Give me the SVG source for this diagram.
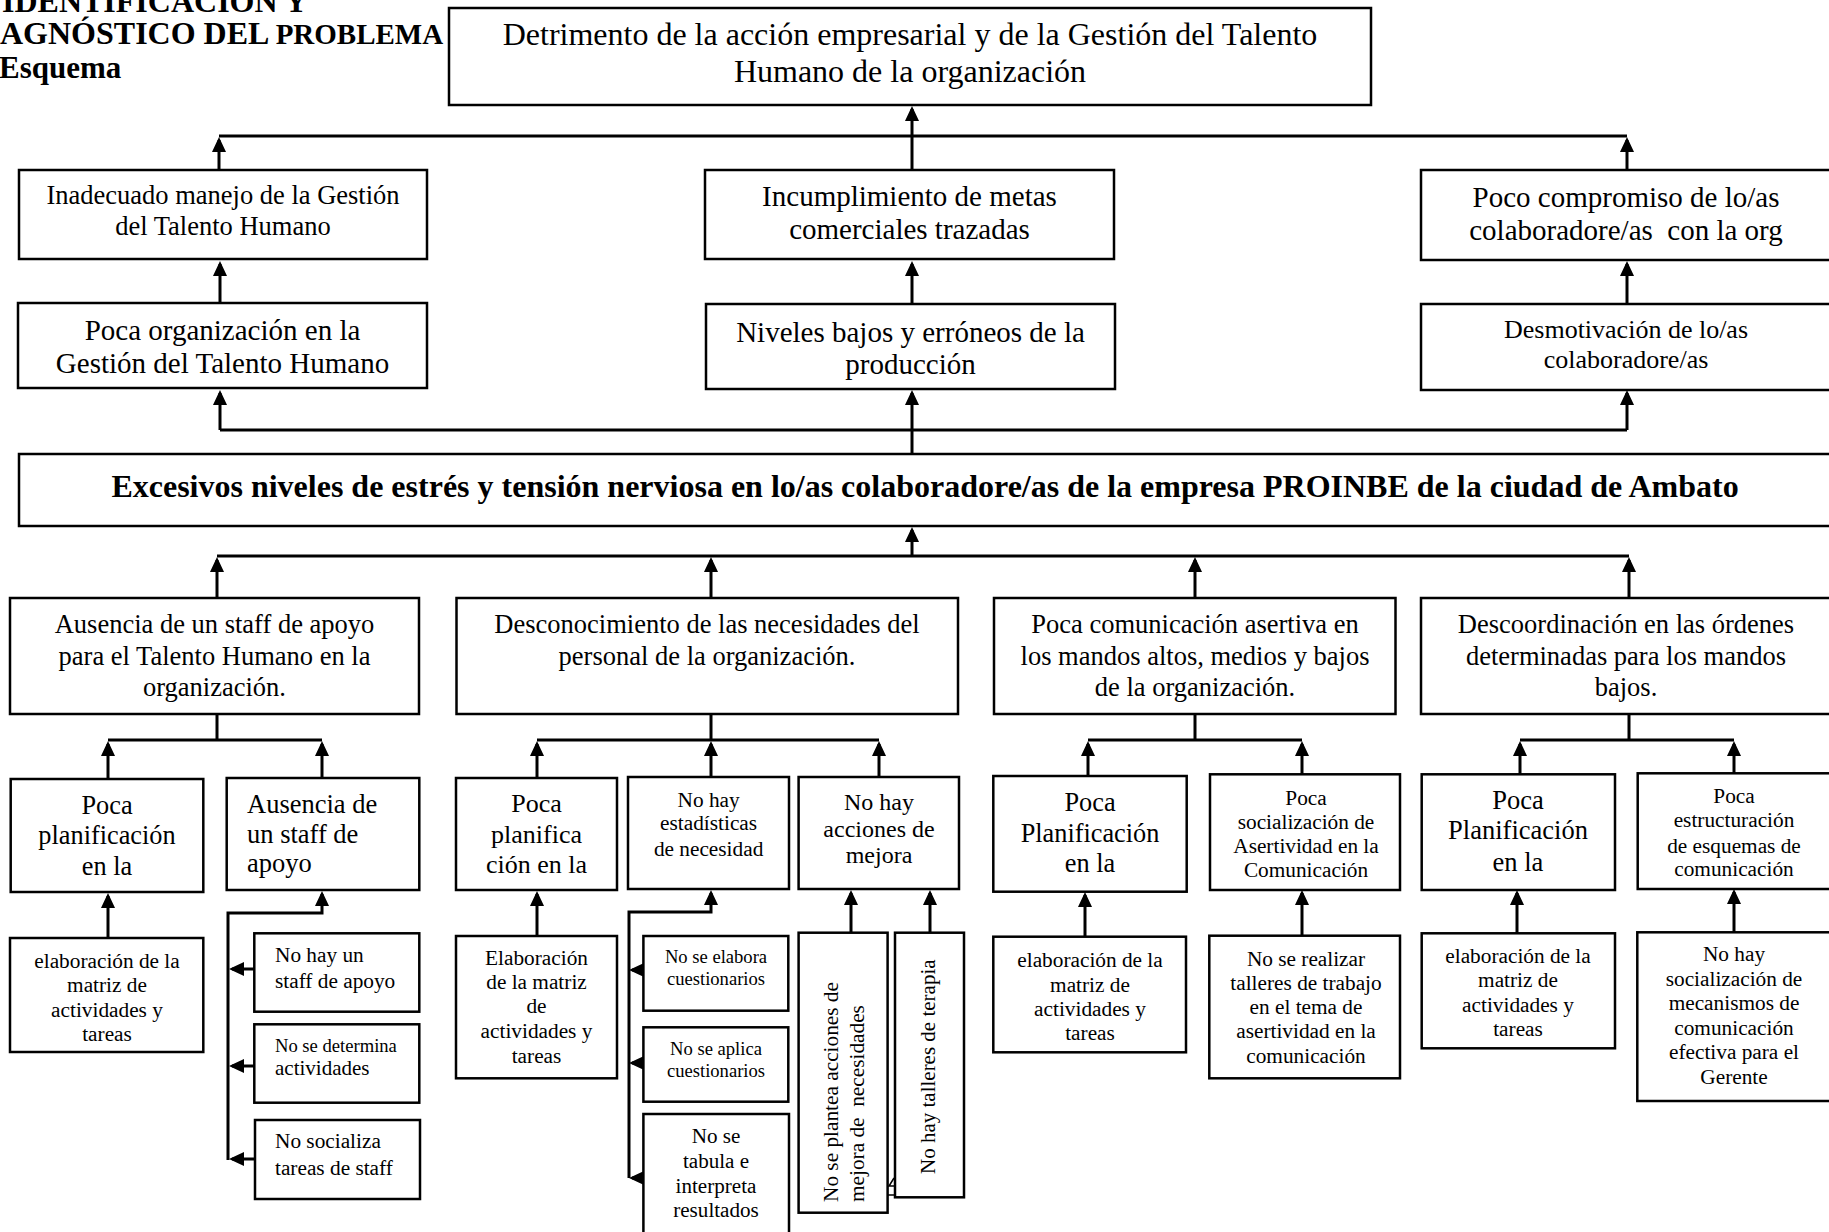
<svg xmlns="http://www.w3.org/2000/svg" width="1829" height="1232" viewBox="0 0 1829 1232">
<style>
.box{fill:#fff;stroke:#000;stroke-width:2.5}
.c{fill:none;stroke:#000;stroke-width:3}
.a{fill:none;stroke:#000;stroke-width:3;marker-end:url(#ah)}
text{font-family:"Liberation Serif","Times New Roman",serif;fill:#000}
.b{font-weight:bold}
.m{text-anchor:middle}
.s32{font-size:32px}
.s29{font-size:29px}
.s26{font-size:26.5px}
.s24{font-size:24px}
.s21{font-size:21.3px}
.s18{font-size:18.6px}
</style>
<defs>
<marker id="ah" viewBox="0 0 15 14" markerWidth="15" markerHeight="14" refX="12" refY="7" orient="auto" markerUnits="userSpaceOnUse"><path d="M0,0 L15,7 L0,14 z" fill="#000"/></marker>
</defs>
<rect width="1829" height="1232" fill="#fff"/>

<g id="title">
<text class="b" font-size="32" x="2" y="12">IDENTIFICACIÓN Y</text>
<text class="b" x="0" y="44"><tspan font-size="32">AGNÓSTICO DEL </tspan><tspan font-size="29">PROBLEMA</tspan></text>
<text class="b" font-size="31" x="-1" y="78">Esquema</text>
</g>

<g id="connectors">
<path class="c" d="M219,136 H1627"/>
<path class="a" d="M219,170 V140"/>
<path class="a" d="M1627,170 V140"/>
<path class="a" d="M912,170 V109"/>
<path class="a" d="M220,303 V264"/>
<path class="a" d="M912,304 V264"/>
<path class="a" d="M1627,304 V264"/>
<path class="c" d="M220,430 H1627"/>
<path class="a" d="M220,430 V393"/>
<path class="a" d="M1627,430 V393"/>
<path class="a" d="M912,454 V393"/>
<path class="a" d="M912,556 V530"/>
<path class="c" d="M217,556 H1629"/>
<path class="a" d="M217,598 V560"/>
<path class="a" d="M711,598 V560"/>
<path class="a" d="M1195,598 V560"/>
<path class="a" d="M1629,598 V560"/>
<path class="c" d="M217,714 V740 M108,740 H322"/>
<path class="c" d="M711,714 V740 M537,740 H879"/>
<path class="c" d="M1195,714 V740 M1088,740 H1302"/>
<path class="c" d="M1629,714 V740 M1520,740 H1734"/>
<path class="a" d="M108,779 V744"/>
<path class="a" d="M322,778 V744"/>
<path class="a" d="M537,778 V744"/>
<path class="a" d="M711,777 V744"/>
<path class="a" d="M879,777 V744"/>
<path class="a" d="M1088,776 V744"/>
<path class="a" d="M1302,774 V744"/>
<path class="a" d="M1520,774 V744"/>
<path class="a" d="M1734,773 V744"/>
<path class="a" d="M108,938 V896"/>
<path class="a" d="M228,1160 V913 H322 V894"/>
<path class="a" d="M254,969 H232"/>
<path class="a" d="M254,1066 H232"/>
<path class="a" d="M255,1159 H232"/>
<path class="a" d="M537,936 V894"/>
<path class="a" d="M629,1178 V912 H711 V893"/>
<path class="a" d="M643,970 H632"/>
<path class="a" d="M643,1063 H632"/>
<path class="a" d="M644,1178 H632"/>
<path class="a" d="M851,933 V893"/>
<path class="a" d="M930,933 V893"/>
<path class="a" d="M1085,937 V895"/>
<path class="a" d="M1302,936 V893"/>
<path class="a" d="M1517,934 V893"/>
<path class="a" d="M1734,932 V892"/>
<path fill="none" stroke="#000" stroke-width="1.5" d="M894,1178 L889,1186 H894 M888,1195 H895"/>
</g>

<g id="n-efecto">
<rect class="box" x="449" y="8" width="922" height="97"/>
<text class="s32 m"><tspan x="910" y="45">Detrimento de la acción empresarial y de la Gestión del Talento</tspan><tspan x="910" y="82">Humano de la organización</tspan></text>
</g>

<g id="n-inadecuado">
<rect class="box" x="19" y="170" width="408" height="89"/>
<text class="s26 m"><tspan x="223" y="204">Inadecuado manejo de la Gestión</tspan><tspan x="223" y="235">del Talento Humano</tspan></text>
</g>
<g id="n-incumplimiento">
<rect class="box" x="705" y="170" width="409" height="89"/>
<text class="s29 m"><tspan x="909.5" y="206">Incumplimiento de metas</tspan><tspan x="909.5" y="239">comerciales trazadas</tspan></text>
</g>
<g id="n-compromiso">
<rect class="box" x="1421" y="170" width="415" height="90"/>
<text class="s29 m"><tspan x="1626" y="207">Poco compromiso de lo/as</tspan><tspan x="1626" y="240">colaboradore/as&#160; con la org</tspan></text>
</g>

<g id="n-organizacion">
<rect class="box" x="18" y="303" width="409" height="85"/>
<text class="s29 m"><tspan x="222.5" y="340">Poca organización en la</tspan><tspan x="222.5" y="373">Gestión del Talento Humano</tspan></text>
</g>
<g id="n-niveles">
<rect class="box" x="706" y="304" width="409" height="85"/>
<text class="s29 m"><tspan x="910.5" y="342">Niveles bajos y erróneos de la</tspan><tspan x="910.5" y="374">producción</tspan></text>
</g>
<g id="n-desmotivacion">
<rect class="box" x="1421" y="304" width="415" height="86"/>
<text font-size="26" class="m"><tspan x="1626" y="338">Desmotivación de lo/as</tspan><tspan x="1626" y="368">colaboradore/as</tspan></text>
</g>

<g id="n-problema">
<rect class="box" x="19" y="454" width="1816" height="72"/>
<text class="b s32 m" x="925" y="497">Excesivos niveles de estrés y tensión nerviosa en lo/as colaboradore/as de la empresa PROINBE de la ciudad de Ambato</text>
</g>

<g id="n-causaA">
<rect class="box" x="10" y="598" width="409" height="116"/>
<text class="s26 m"><tspan x="214.5" y="633">Ausencia de un staff de apoyo</tspan><tspan x="214.5" y="665">para el Talento Humano en la</tspan><tspan x="214.5" y="696">organización.</tspan></text>
</g>
<g id="n-causaB">
<rect class="box" x="456.5" y="598" width="501.5" height="116"/>
<text class="s26 m"><tspan x="707" y="633">Desconocimiento de las necesidades del</tspan><tspan x="707" y="665">personal de la organización.</tspan></text>
</g>
<g id="n-causaC">
<rect class="box" x="994" y="598" width="401.5" height="116"/>
<text class="s26 m"><tspan x="1195" y="633">Poca comunicación asertiva en</tspan><tspan x="1195" y="665">los mandos altos, medios y bajos</tspan><tspan x="1195" y="696">de la organización.</tspan></text>
</g>
<g id="n-causaD">
<rect class="box" x="1421" y="598" width="415" height="116"/>
<text class="s26 m"><tspan x="1626" y="633">Descoordinación en las órdenes</tspan><tspan x="1626" y="665">determinadas para los mandos</tspan><tspan x="1626" y="696">bajos.</tspan></text>
</g>

<g id="n-A1">
<rect class="box" x="10.7" y="779" width="192.6" height="113"/>
<text class="m" font-size="26.3"><tspan x="107" y="814">Poca</tspan><tspan x="107" y="844">planificación</tspan><tspan x="107" y="875">en la</tspan></text>
</g>
<g id="n-A2">
<rect class="box" x="226.7" y="778" width="192.6" height="112"/>
<text class="s26"><tspan x="247" y="813">Ausencia de</tspan><tspan x="247" y="843">un staff de</tspan><tspan x="247" y="872">apoyo</tspan></text>
</g>
<g id="n-A1a">
<rect class="box" x="10" y="938" width="193.3" height="114"/>
<text class="s21 m"><tspan x="107" y="968">elaboración de la</tspan><tspan x="107" y="992">matriz de</tspan><tspan x="107" y="1017">actividades y</tspan><tspan x="107" y="1041">tareas</tspan></text>
</g>
<g id="n-A2a">
<rect class="box" x="254.3" y="933.3" width="165" height="78.4"/>
<text class="s21"><tspan x="275" y="962">No hay un</tspan><tspan x="275" y="988">staff de apoyo</tspan></text>
</g>
<g id="n-A2b">
<rect class="box" x="254.3" y="1024.3" width="165" height="78.4"/>
<text><tspan class="s18" x="275" y="1052">No se determina</tspan><tspan font-size="21" x="275" y="1075">actividades</tspan></text>
</g>
<g id="n-A2c">
<rect class="box" x="255" y="1120" width="165" height="79"/>
<text class="s21"><tspan x="275" y="1148">No socializa</tspan><tspan x="275" y="1175">tareas de staff</tspan></text>
</g>

<g id="n-B1">
<rect class="box" x="456" y="778" width="161" height="112"/>
<text class="m" font-size="26"><tspan x="536.5" y="812">Poca</tspan><tspan x="536.5" y="843">planifica</tspan><tspan x="536.5" y="873">ción en la</tspan></text>
</g>
<g id="n-B2">
<rect class="box" x="628" y="777" width="161" height="112"/>
<text class="s21 m"><tspan x="708.6" y="807">No hay</tspan><tspan x="708.6" y="830">estadísticas</tspan><tspan x="708.6" y="856">de necesidad</tspan></text>
</g>
<g id="n-B3">
<rect class="box" x="798.6" y="777" width="160.4" height="112"/>
<text class="s24 m"><tspan x="879" y="810">No hay</tspan><tspan x="879" y="837">acciones de</tspan><tspan x="879" y="863">mejora</tspan></text>
</g>
<g id="n-B1a">
<rect class="box" x="456" y="936" width="161" height="142.3"/>
<text class="s21 m"><tspan x="536.5" y="965">Elaboración</tspan><tspan x="536.5" y="989">de la matriz</tspan><tspan x="536.5" y="1013">de</tspan><tspan x="536.5" y="1038">actividades y</tspan><tspan x="536.5" y="1063">tareas</tspan></text>
</g>
<g id="n-B2a">
<rect class="box" x="643.4" y="936" width="144.9" height="74.7"/>
<text class="s18 m"><tspan x="716" y="963">No se elabora</tspan><tspan x="716" y="985">cuestionarios</tspan></text>
</g>
<g id="n-B2b">
<rect class="box" x="643.4" y="1027.3" width="144.9" height="74.4"/>
<text class="s18 m"><tspan x="716" y="1055">No se aplica</tspan><tspan x="716" y="1077">cuestionarios</tspan></text>
</g>
<g id="n-B2c">
<rect class="box" x="643.4" y="1114" width="145.6" height="125"/>
<text font-size="21.1" class="m"><tspan x="716" y="1143">No se</tspan><tspan x="716" y="1168">tabula e</tspan><tspan x="716" y="1193">interpreta</tspan><tspan x="716" y="1217">resultados</tspan></text>
</g>
<g id="n-B3a">
<rect class="box" x="798.6" y="932.7" width="89" height="280"/>
<text class="s21" transform="translate(838,1202) rotate(-90)"><tspan x="0" y="0">No se plantea acciones de</tspan><tspan x="0" y="26">mejora de&#160; necesidades</tspan></text>
</g>
<g id="n-B3b">
<rect class="box" x="895" y="932.7" width="69" height="264.6"/>
<text font-size="21" transform="translate(935,1174) rotate(-90)" x="0" y="0">No hay talleres de terapia</text>
</g>

<g id="n-C1">
<rect class="box" x="993.3" y="776" width="193.4" height="115.7"/>
<text class="m" font-size="26.3"><tspan x="1090" y="811">Poca</tspan><tspan x="1090" y="842">Planificación</tspan><tspan x="1090" y="872">en la</tspan></text>
</g>
<g id="n-C2">
<rect class="box" x="1210" y="774.3" width="190" height="115.7"/>
<text class="s21 m"><tspan x="1306" y="805">Poca</tspan><tspan x="1306" y="829">socialización de</tspan><tspan x="1306" y="853">Asertividad en la</tspan><tspan x="1306" y="877">Comunicación</tspan></text>
</g>
<g id="n-C1a">
<rect class="box" x="993.3" y="936.7" width="192.7" height="115.6"/>
<text class="s21 m"><tspan x="1090" y="967">elaboración de la</tspan><tspan x="1090" y="992">matriz de</tspan><tspan x="1090" y="1016">actividades y</tspan><tspan x="1090" y="1040">tareas</tspan></text>
</g>
<g id="n-C2a">
<rect class="box" x="1209.3" y="935.7" width="190.7" height="142.6"/>
<text class="s21 m"><tspan x="1306" y="966">No se realizar</tspan><tspan x="1306" y="990">talleres de trabajo</tspan><tspan x="1306" y="1014">en el tema de</tspan><tspan x="1306" y="1038">asertividad en la</tspan><tspan x="1306" y="1063">comunicación</tspan></text>
</g>

<g id="n-D1">
<rect class="box" x="1421.7" y="774.3" width="193.3" height="115.7"/>
<text class="s26 m"><tspan x="1518" y="809">Poca</tspan><tspan x="1518" y="839">Planificación</tspan><tspan x="1518" y="871">en la</tspan></text>
</g>
<g id="n-D2">
<rect class="box" x="1637.7" y="773.3" width="200" height="115.7"/>
<text class="s21 m"><tspan x="1734" y="803">Poca</tspan><tspan x="1734" y="827">estructuración</tspan><tspan x="1734" y="853">de esquemas de</tspan><tspan x="1734" y="876">comunicación</tspan></text>
</g>
<g id="n-D1a">
<rect class="box" x="1421.7" y="933.3" width="193.3" height="115"/>
<text class="s21 m"><tspan x="1518" y="963">elaboración de la</tspan><tspan x="1518" y="987">matriz de</tspan><tspan x="1518" y="1012">actividades y</tspan><tspan x="1518" y="1036">tareas</tspan></text>
</g>
<g id="n-D2a">
<rect class="box" x="1637.3" y="932.3" width="200" height="168.7"/>
<text class="s21 m"><tspan x="1734" y="961">No hay</tspan><tspan x="1734" y="986">socialización de</tspan><tspan x="1734" y="1010">mecanismos de</tspan><tspan x="1734" y="1035">comunicación</tspan><tspan x="1734" y="1059">efectiva para el</tspan><tspan x="1734" y="1084">Gerente</tspan></text>
</g>
</svg>
